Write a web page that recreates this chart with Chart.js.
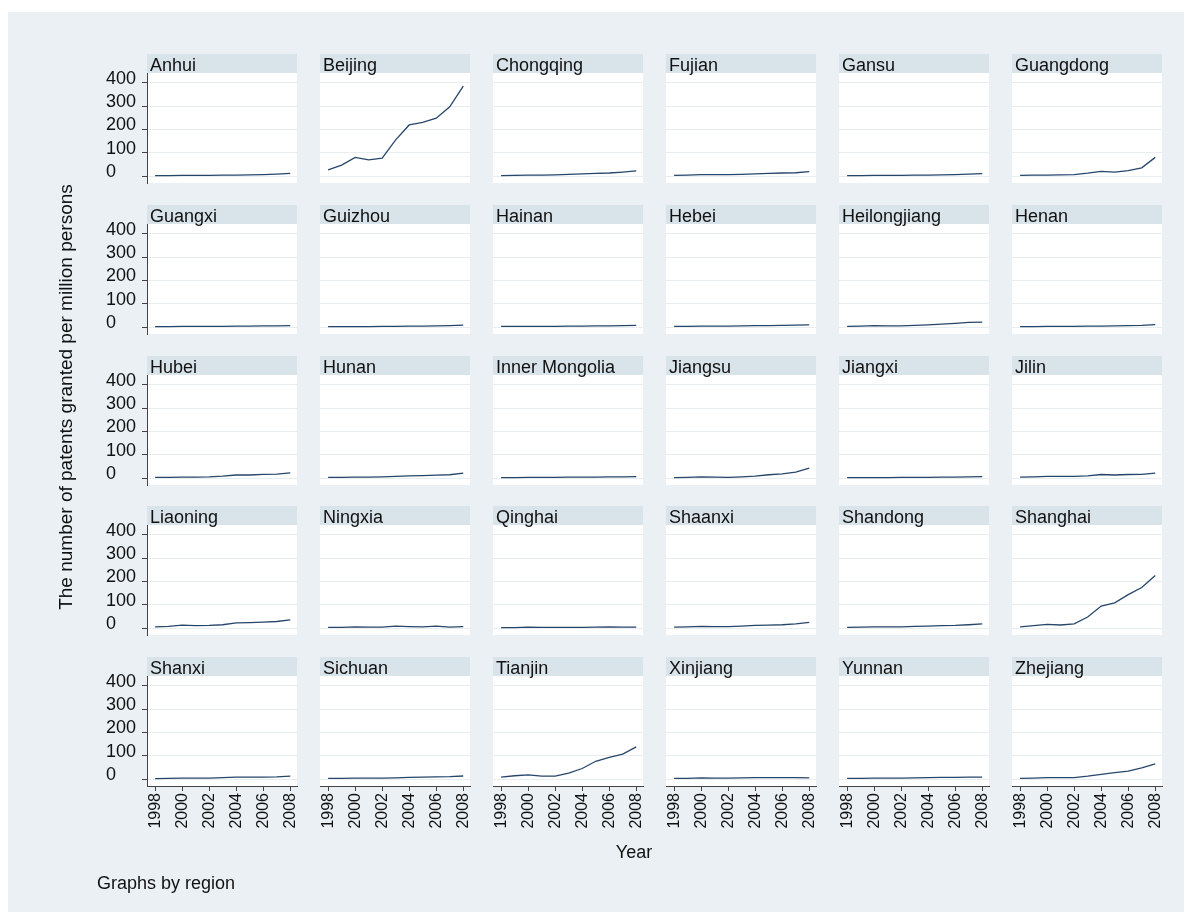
<!DOCTYPE html>
<html>
<head>
<meta charset="utf-8">
<script src="https://cdn.jsdelivr.net/npm/chart.js@4"></script>
<style>
  body { margin: 0; background: #fff; font-family: "Liberation Sans", Arial, sans-serif; }
  #frame { position: absolute; left: 8px; top: 12px; width: 1176px; height: 900px; background: #eaf0f3; }
  canvas { position: absolute; }
  .strip { position: absolute; height: 19px; width: 150px; background: #d9e3ea; font-size: 18px;
           line-height: 23px; padding-left: 3px; box-sizing: border-box; color: #111; white-space: nowrap; }
  .txt { position: absolute; font-size: 18px; color: #111; white-space: nowrap; }
</style>
</head>
<body>
<div id="frame"></div>
<div id="panels"></div>
<div class="txt" style="left:-234px; top:386px; width:600px; text-align:center; font-size:19px; transform:rotate(-90deg);">The number of patents granted per million persons</div>
<div class="txt" style="left:534px; top:842px; width:200px; text-align:center;">Year</div>
<div class="txt" style="left:97px; top:873px;">Graphs by region</div>

<script>
// data (patents granted per million persons)
const years = [1998, 1999, 2000, 2001, 2002, 2003, 2004, 2005, 2006, 2007, 2008];
const regions = ['Anhui', 'Beijing', 'Chongqing', 'Fujian', 'Gansu', 'Guangdong',
  'Guangxi', 'Guizhou', 'Hainan', 'Hebei', 'Heilongjiang', 'Henan',
  'Hubei', 'Hunan', 'Inner Mongolia', 'Jiangsu', 'Jiangxi', 'Jilin',
  'Liaoning', 'Ningxia', 'Qinghai', 'Shaanxi', 'Shandong', 'Shanghai',
  'Shanxi', 'Sichuan', 'Tianjin', 'Xinjiang', 'Yunnan', 'Zhejiang'];
const patents = [
  [2, 2, 3, 3, 3, 4, 4, 5, 6, 8, 11],              // Anhui
  [26, 47, 80, 69, 77, 155, 219, 230, 248, 297, 386], // Beijing
  [2, 3, 4, 4, 5, 7, 9, 11, 13, 17, 22],           // Chongqing
  [3, 4, 6, 6, 6, 7, 9, 11, 13, 14, 19],           // Fujian
  [2, 2, 3, 3, 3, 4, 4, 5, 6, 8, 10],              // Gansu
  [3, 4, 4, 5, 6, 12, 20, 17, 23, 35, 80],         // Guangdong
  [2, 2, 3, 3, 3, 3, 4, 4, 5, 5, 6],               // Guangxi
  [2, 2, 2, 2, 3, 3, 4, 4, 5, 6, 8],               // Guizhou
  [3, 3, 3, 3, 3, 4, 4, 5, 5, 6, 7],               // Hainan
  [3, 3, 4, 4, 4, 5, 6, 6, 7, 8, 9],               // Hebei
  [3, 4, 6, 5, 5, 7, 9, 12, 16, 20, 21],           // Heilongjiang
  [2, 2, 3, 3, 3, 4, 4, 5, 6, 7, 10],              // Henan
  [3, 3, 4, 4, 5, 8, 13, 13, 16, 17, 22],          // Hubei
  [3, 3, 4, 4, 5, 7, 9, 10, 12, 14, 21],           // Hunan
  [2, 2, 3, 3, 3, 4, 4, 4, 5, 5, 6],               // Inner Mongolia
  [2, 3, 5, 4, 3, 5, 8, 14, 18, 25, 42],           // Jiangsu
  [2, 2, 2, 2, 3, 3, 3, 4, 4, 5, 6],               // Jiangxi
  [4, 5, 7, 7, 7, 9, 15, 13, 15, 16, 21],          // Jilin
  [5, 7, 12, 10, 11, 14, 22, 23, 25, 28, 35],      // Liaoning
  [3, 3, 5, 4, 4, 8, 6, 5, 8, 4, 6],               // Ningxia
  [2, 2, 4, 3, 3, 3, 3, 4, 5, 4, 4],               // Qinghai
  [4, 5, 7, 6, 6, 8, 11, 12, 14, 18, 24],          // Shaanxi
  [3, 4, 5, 5, 5, 7, 8, 10, 11, 14, 18],           // Shandong
  [5, 10, 16, 13, 18, 47, 94, 108, 143, 174, 225], // Shanghai
  [2, 3, 4, 4, 4, 6, 8, 8, 8, 9, 12],              // Shanxi
  [3, 3, 4, 4, 4, 5, 7, 8, 9, 10, 13],             // Sichuan
  [8, 14, 18, 12, 12, 25, 45, 76, 93, 107, 138],   // Tianjin
  [3, 3, 5, 4, 4, 5, 6, 6, 6, 6, 5],               // Xinjiang
  [3, 3, 4, 4, 4, 5, 6, 7, 7, 8, 8],               // Yunnan
  [3, 4, 6, 6, 6, 12, 20, 27, 34, 48, 65]          // Zhejiang
];
const yTicks = [0, 100, 200, 300, 400];
const xTicks = [1998, 2000, 2002, 2004, 2006, 2008];

const FONT = '"Liberation Sans", Arial, sans-serif';
const PAD = 30; // room for overhanging labels so every plot area keeps the same size

// white plot region behind the line
const plotBg = {
  id: 'plotBg',
  beforeDraw(chart) {
    const { ctx, chartArea: a } = chart;
    ctx.save();
    ctx.fillStyle = '#ffffff';
    ctx.fillRect(a.left, a.top, a.right - a.left, a.bottom - a.top);
    ctx.restore();
  }
};

const holder = document.getElementById('panels');

regions.forEach((name, i) => {
  const col = i % 6;
  const row = Math.floor(i / 6);
  const plotL = 147 + 173 * col;
  const plotT = Math.round(73 + 150.75 * row);
  const leftCol = col === 0;
  const bottomRow = row === 4;
  const yW = leftCol ? 41 : 0;
  const xH = bottomRow ? 50 : 0;

  const cv = document.createElement('canvas');
  cv.width = PAD + yW + 150 + PAD;
  cv.height = PAD + 110 + xH + PAD;
  cv.style.left = (plotL - yW - PAD) + 'px';
  cv.style.top = (plotT - PAD) + 'px';
  holder.appendChild(cv);

  new Chart(cv.getContext('2d'), {
    type: 'line',
    data: {
      datasets: [{
        data: years.map((y, k) => ({ x: y, y: patents[i][k] })),
        borderColor: '#27466b',
        borderWidth: 1.3,
        pointRadius: 0,
        tension: 0,
        fill: false
      }]
    },
    options: {
      responsive: false,
      animation: false,
      devicePixelRatio: 1,
      layout: { padding: PAD },
      plugins: { legend: { display: false }, tooltip: { enabled: false } },
      scales: {
        x: {
          type: 'linear',
          min: 1997.4,
          max: 2008.5,
          afterBuildTicks: s => { s.ticks = xTicks.map(v => ({ value: v })); },
          afterFit: s => { s.height = xH; },
          grid: { display: bottomRow, drawOnChartArea: false, tickLength: 5, tickColor: '#444' },
          border: { display: bottomRow, color: '#444', width: 1 },
          ticks: {
            display: bottomRow, minRotation: 90, maxRotation: 90, autoSkip: false, padding: 2,
            color: '#111', font: { family: FONT, size: 16 }, callback: v => String(v)
          }
        },
        y: {
          min: -30,
          max: 442,
          afterBuildTicks: s => { s.ticks = yTicks.map(v => ({ value: v })); },
          afterFit: s => { s.width = yW; },
          grid: { color: '#e8edf0', lineWidth: 1, drawTicks: leftCol, tickLength: 5, tickColor: '#444' },
          border: { display: leftCol, color: '#444', width: 1 },
          ticks: {
            display: leftCol, crossAlign: 'far', padding: 2, labelOffset: -4,
            color: '#111', font: { family: FONT, size: 18 }, callback: v => String(v)
          }
        }
      }
    },
    plugins: [plotBg]
  });

  const strip = document.createElement('div');
  strip.className = 'strip';
  strip.style.left = plotL + 'px';
  strip.style.top = (plotT - 19) + 'px';
  strip.textContent = name;
  holder.appendChild(strip);
});
</script>
</body>
</html>
